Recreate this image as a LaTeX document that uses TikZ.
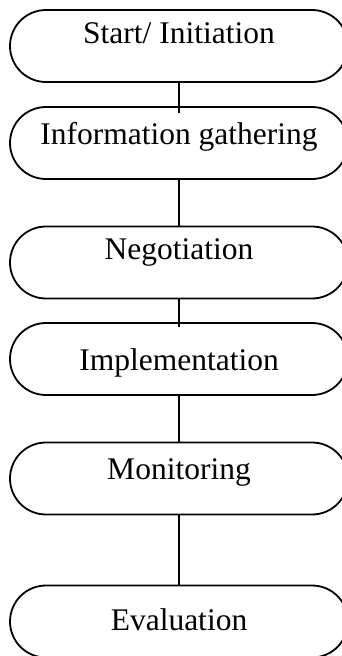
\documentclass[tikz,border=0pt]{standalone}
\usepackage{fontspec}
\setmainfont{Liberation Serif}
\usetikzlibrary{shapes.misc}
\begin{document}
\begin{tikzpicture}[x=1pt,y=1pt,
  term/.style={rounded rectangle, draw=black, line width=1.8pt, minimum width=338pt, minimum height=72pt, inner sep=0pt},
  lbl/.style={font=\fontsize{31.5}{31.5}\selectfont, inner sep=0pt, anchor=center},
  conn/.style={draw=black, line width=1.8pt}]
\useasboundingbox (0,0) rectangle (342,-656);
\clip (0,0) rectangle (342,-656);
\node[term] (b1) at (179,-46) {};
\node[term] (b2) at (179,-143) {};
\node[term] (b3) at (179,-262.5) {};
\node[term] (b4) at (179,-359) {};
\node[term] (b5) at (179,-478.5) {};
\node[term] (b6) at (179,-621.5) {};
\node[lbl] (t1) at (179,-33) {Start/ Initiation};
\node[lbl] (t2) at (179,-137) {Information gathering};
\node[lbl] (t3) at (179,-252) {Negotiation};
\node[lbl] (t4) at (179,-363) {Implementation};
\node[lbl] (t5) at (179,-472) {Monitoring};
\node[lbl] (t6) at (179,-620) {Evaluation};
\draw[conn] (b1.south) -- ([yshift=-7pt]b2.north);
\draw[conn] (b2.south) -- (b3.north);
\draw[conn] (b3.south) -- ([yshift=-5pt]b4.north);
\draw[conn] (b4.south) -- (b5.north);
\draw[conn] (b5.south) -- (b6.north);
\end{tikzpicture}
\end{document}
